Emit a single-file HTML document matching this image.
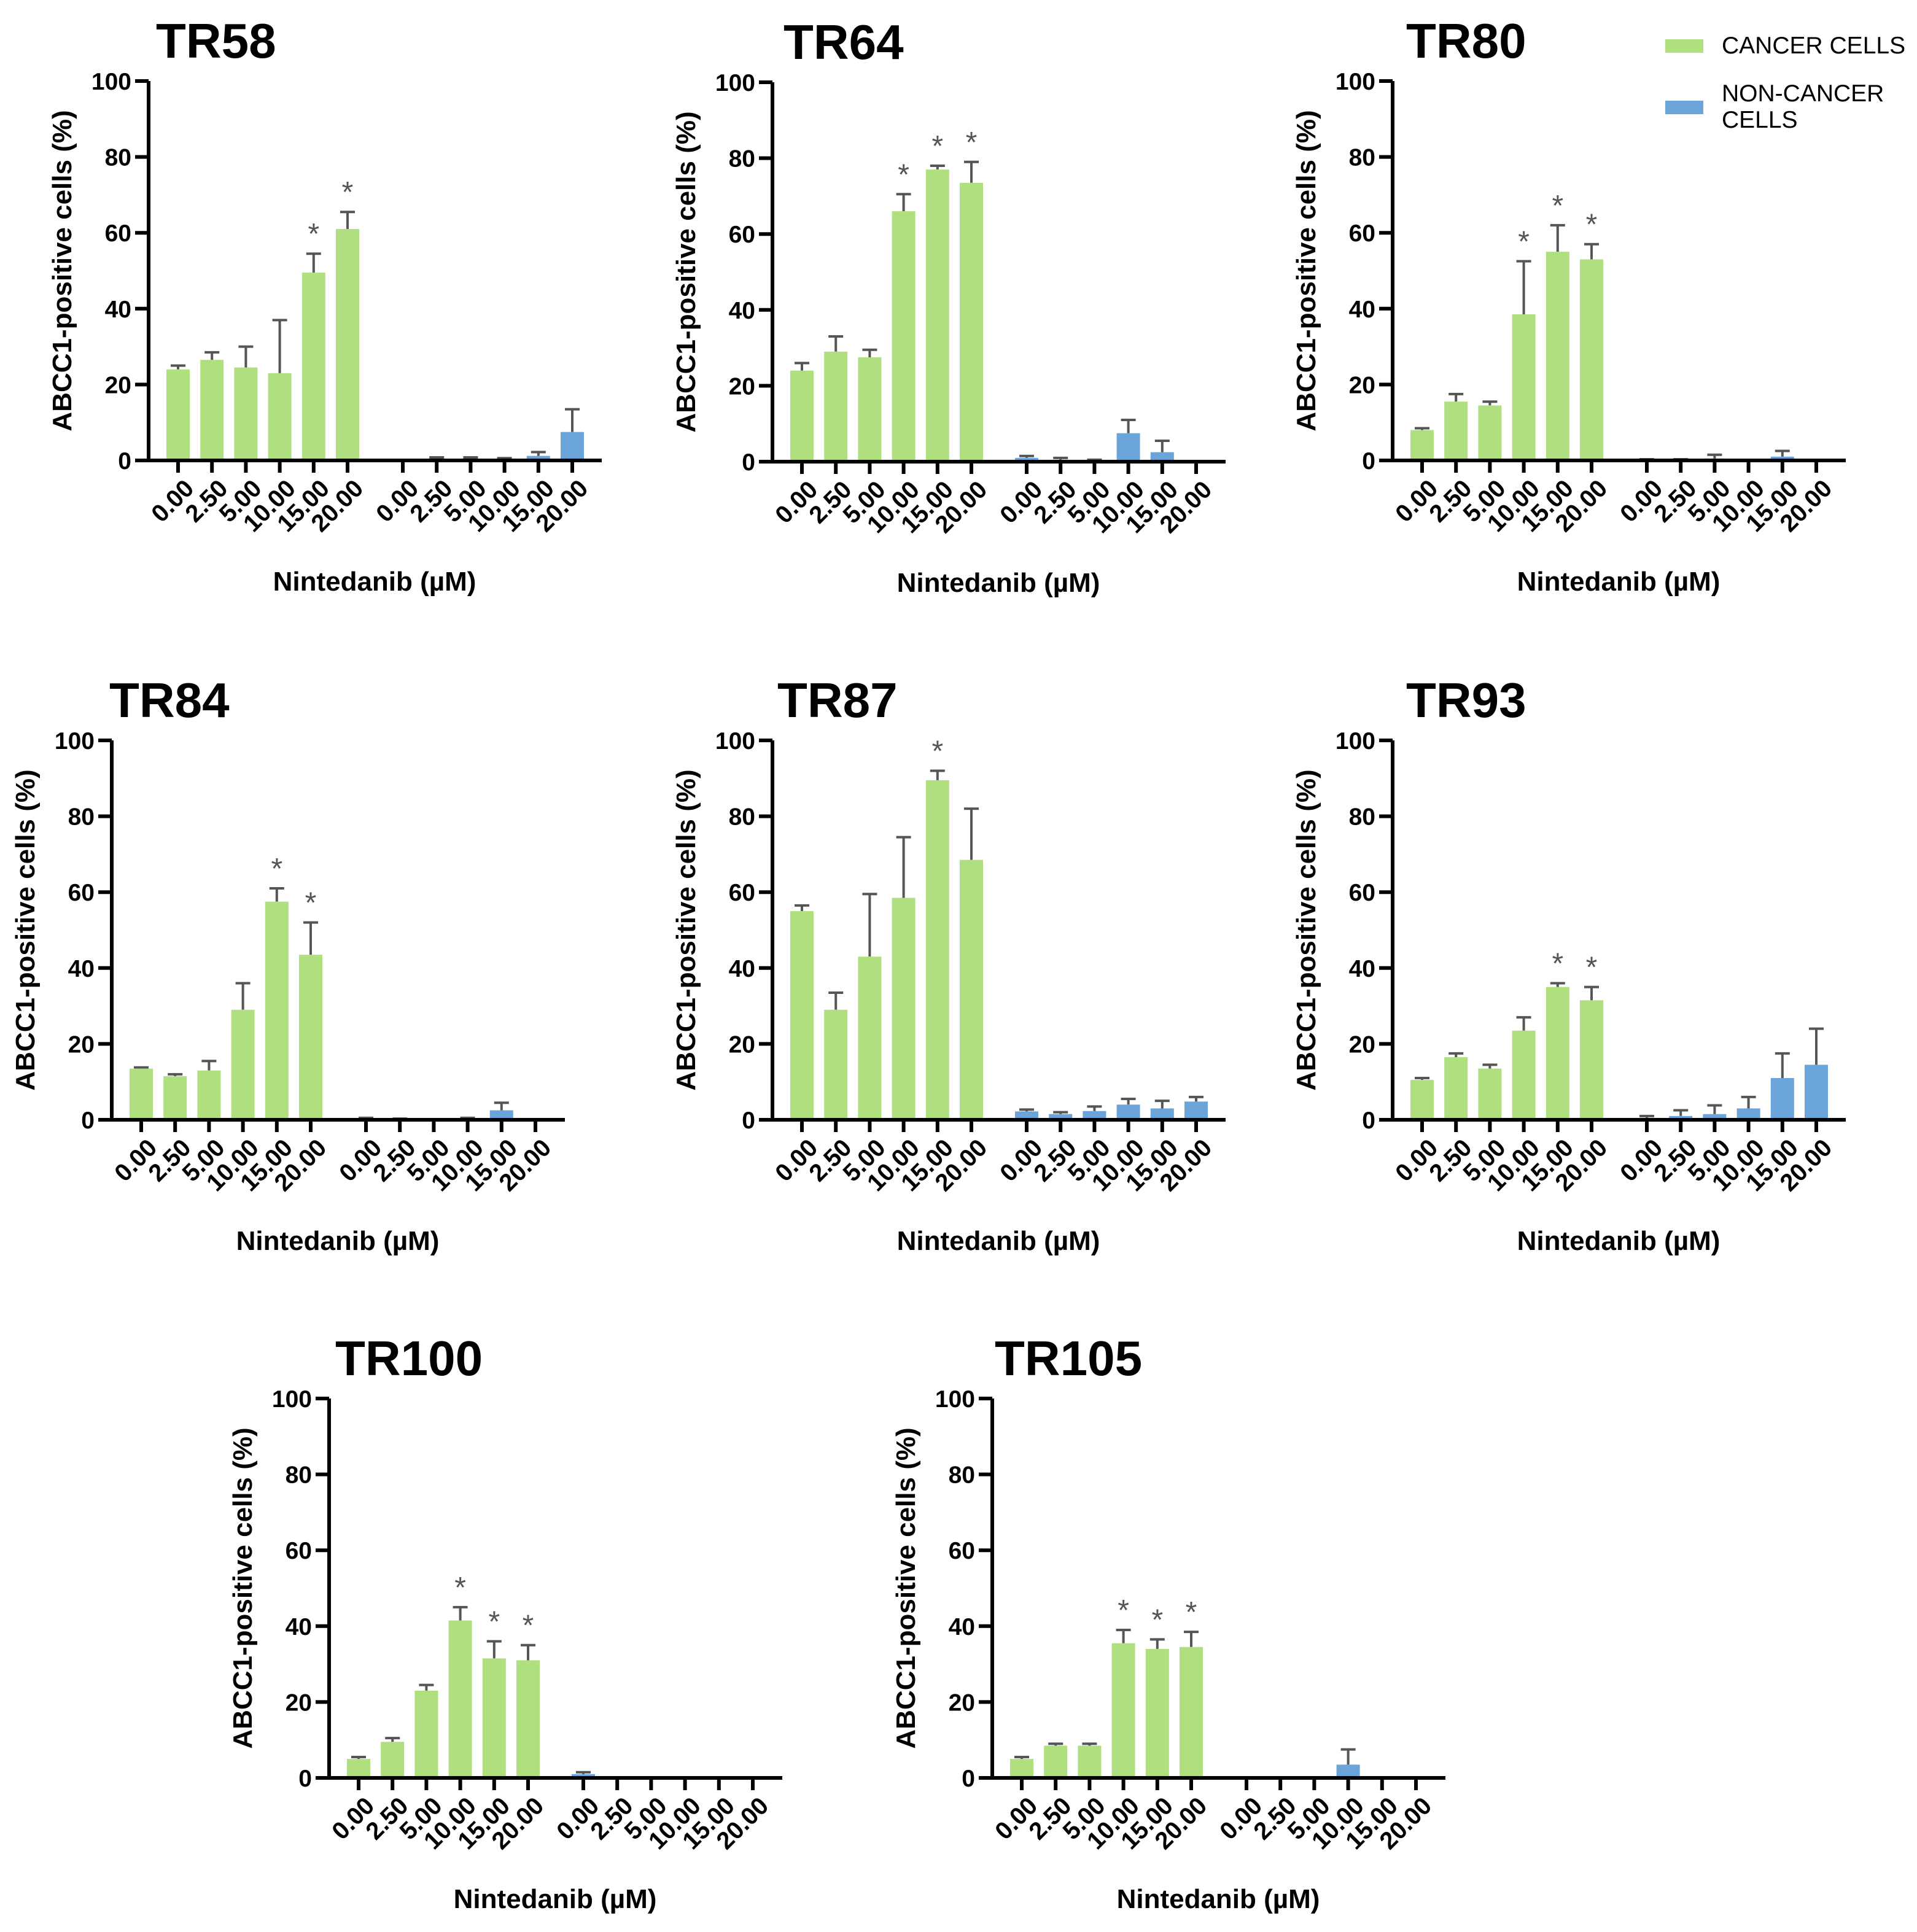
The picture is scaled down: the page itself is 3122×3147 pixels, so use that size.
<!DOCTYPE html>
<html><head><meta charset="utf-8"><style>
html,body{margin:0;padding:0;background:#fff;}
svg{display:block;font-family:"Liberation Sans",Arial,sans-serif;}
</style></head><body>
<svg id="fig" width="3122" height="3147" viewBox="0 0 1561 1573.5" xmlns="http://www.w3.org/2000/svg"></svg>
<script>
const panelNames = ["TR58","TR64","TR80","TR84","TR87","TR93","TR100","TR105"];
const doseLabels = ["0.00","2.50","5.00","10.00","15.00","20.00"];
const yTicks = [0,20,40,60,80,100];
const cancerVals = [
 [24,26.5,24.5,23,49.5,61],
 [24,29,27.5,66,77,73.5],
 [8,15.5,14.5,38.5,55,53],
 [13.5,11.5,13,29,57.5,43.5],
 [55,29,43,58.5,89.5,68.5],
 [10.5,16.5,13.5,23.5,35,31.5],
 [5,9.5,23,41.5,31.5,31],
 [5,8.5,8.5,35.5,34,34.5]];
const cancerErr = [
 [1,2,5.5,14,5,4.5],
 [2,4,2,4.5,1,5.5],
 [0.5,2,1,14,7,4],
 [0.3,0.5,2.5,7,3.5,8.5],
 [1.5,4.5,16.5,16,2.5,13.5],
 [0.5,1,1,3.5,1,3.5],
 [0.5,1,1.5,3.5,4.5,4],
 [0.5,0.5,0.5,3.5,2.5,4]];
const nonVals = [
 [0,0.3,0.3,0.3,1.2,7.5],
 [1,0.5,0.2,7.5,2.5,0],
 [0,0,0.5,0,1,0],
 [0,0,0,0,2.5,0],
 [2.2,1.5,2.3,4,3,4.8],
 [0.5,1,1.5,3,11,14.5],
 [1,0,0,0,0,0],
 [0,0,0,3.5,0,0]];
const nonErr = [
 [0,0.5,0.5,0.3,1,6],
 [0.5,0.5,0.3,3.5,3,0],
 [0.3,0.3,1,0,1.5,0],
 [0.5,0.3,0,0.5,2,0],
 [0.5,0.5,1.2,1.5,2,1.2],
 [0.5,1.5,2.3,3,6.5,9.5],
 [0.5,0,0,0,0,0],
 [0,0,0,4,0,0]];
const cancerStars = [
 [0,0,0,0,1,1],[0,0,0,1,1,1],[0,0,0,1,1,1],[0,0,0,0,1,1],
 [0,0,0,0,1,0],[0,0,0,0,1,1],[0,0,0,1,1,1],[0,0,0,1,1,1]];

const layout = [
 {x0:121,top:66,zero:375,tx:127},
 {x0:629,top:67,zero:376,tx:638},
 {x0:1134,top:66,zero:375,tx:1145},
 {x0:91,top:603,zero:912,tx:89},
 {x0:629,top:603,zero:912,tx:633},
 {x0:1134,top:603,zero:912,tx:1145},
 {x0:268,top:1139,zero:1448,tx:273},
 {x0:808,top:1139,zero:1448,tx:810}];

const NS="http://www.w3.org/2000/svg";
const svg=document.getElementById('fig');
function mk(tag,attrs,parent){const e=document.createElementNS(NS,tag);for(const k in attrs)e.setAttribute(k,attrs[k]);(parent||svg).appendChild(e);return e;}
const GREEN="#b0df80",BLUE="#6ba4d9",ERR="#555";

panelNames.forEach((name,p)=>{
  const L=layout[p];
  const g=mk('g',{});
  
  
  const yScale=v=>L.zero-(v/100)*(L.zero-L.top);
  const xPos=(grp,i)=>L.x0+24+grp*183+i*27.6;
  const t=mk('text',{x:L.tx,y:L.top-19,'font-size':40,'font-weight':'bold',fill:'#000'},g);
  t.textContent=name;
  
  
  const ya=mk('line',{x1:L.x0,y1:L.top,x2:L.x0,y2:L.zero+1.5,stroke:'#000','stroke-width':3},g);
  
  
  yTicks.forEach(v=>{
    const y=yScale(v);
    mk('line',{x1:L.x0-11,y1:y,x2:L.x0,y2:y,stroke:'#000','stroke-width':3},g);
    const tl=mk('text',{x:L.x0-14,y:y+7,'font-size':19.5,'font-weight':'bold','text-anchor':'end'},g);
    tl.textContent=v;
    
    
  });
  const yl=mk('text',{x:0,y:0,'font-size':22,'font-weight':'bold','text-anchor':'middle',transform:`translate(${L.x0-63},${(L.top+L.zero)/2}) rotate(-90)`},g);
  yl.textContent='ABCC1-positive cells (%)';
  
  
  [[cancerVals,cancerErr,GREEN,'cancer'],[nonVals,nonErr,BLUE,'non-cancer']].forEach(([vals,errs,col,lab],grp)=>{
    vals[p].forEach((v,i)=>{
      const cx=xPos(grp,i);
      const yv=yScale(v);
      if(errs[p][i]>0){
        const ye=yScale(v+errs[p][i]);
        mk('line',{x1:cx,y1:ye,x2:cx,y2:yv,stroke:ERR,'stroke-width':2},g);
        mk('line',{x1:cx-6,y1:ye,x2:cx+6,y2:ye,stroke:ERR,'stroke-width':2},g);
      }
      if(v>0){
        const r=mk('rect',{x:cx-9.5,y:yv,width:19,height:L.zero-yv,fill:col},g);
        
        
      }
      if(grp===0&&cancerStars[p][i]){
        const s=mk('text',{x:cx,y:yScale(v+errs[p][i])-8,'font-size':24,fill:'#555','text-anchor':'middle'},g);
        s.textContent='*';
        
        
      }
    });
  });
  const xa=mk('line',{x1:L.x0-1.5,y1:L.zero,x2:L.x0+369,y2:L.zero,stroke:'#000','stroke-width':3},g);
  
  
  [0,1].forEach(grp=>doseLabels.forEach((d,i)=>{
    const cx=xPos(grp,i);
    mk('line',{x1:cx,y1:L.zero,x2:cx,y2:L.zero+10,stroke:'#000','stroke-width':3},g);
    const xl=mk('text',{x:0,y:0,'font-size':20,'font-weight':'bold','text-anchor':'end',transform:`translate(${cx+14},${L.zero+24}) rotate(-45)`},g);
    xl.textContent=d;
    
    
  }));
  const xt=mk('text',{x:L.x0+184,y:L.zero+106,'font-size':22,'font-weight':'bold','text-anchor':'middle'},g);
  xt.textContent='Nintedanib (\u00B5M)';
  
  
});

const lg=mk('g',{});


const r1=mk('rect',{x:1356,y:32,width:31,height:11,fill:GREEN},lg);


const t1=mk('text',{x:1402,y:43.5,'font-size':19.5},lg);
t1.textContent='CANCER CELLS';


const r2=mk('rect',{x:1356,y:82,width:31,height:11,fill:BLUE},lg);


const t2=mk('text',{x:1402,y:82.5,'font-size':19.5},lg);
t2.textContent='NON-CANCER';


const t3=mk('text',{x:1402,y:104,'font-size':19.5},lg);
t3.textContent='CELLS';


</script>
</body></html>
